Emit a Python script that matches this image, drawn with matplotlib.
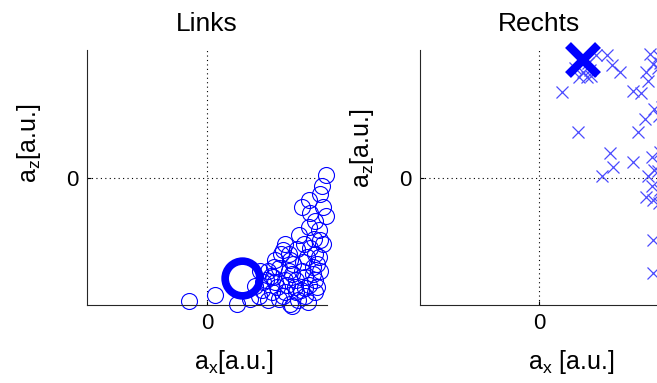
import matplotlib
matplotlib.use("Agg")
import matplotlib.pyplot as plt

plt.rcParams['font.family'] = ['Liberation Sans', 'DejaVu Sans']
plt.rcParams['mathtext.default'] = 'regular'

# left: circles (Links)
links_x = [-0.15, 0.07, 0.25, 0.99, 0.94, 0.85, 0.79, 0.97, 0.86, 0.90, 0.85, 0.93,
           0.89, 0.94, 0.81, 0.65, 0.75, 0.90, 0.93, 0.83, 0.63, 0.69, 0.57, 0.94,
           0.88, 0.79, 0.68, 0.60, 0.51, 0.44, 0.49, 0.57, 0.65, 0.74, 0.82, 0.90,
           0.90, 0.82, 0.74, 0.65, 0.54, 0.46, 0.51, 0.60, 0.69, 0.76, 0.43, 0.71,
           0.82, 0.99, 0.97, 0.72, 0.77, 0.36, 0.40, 0.55, 0.62, 0.86, 0.96, 0.92,
           0.58, 0.67, 0.78, 0.85, 0.47, 0.53, 0.71, 0.80, 0.88, 0.63, 0.73, 0.84,
           0.92, 0.56, 0.68]
links_y = [-0.97, -0.92, -0.99, 0.02, -0.13, -0.18, -0.23, -0.23, -0.28, -0.34, -0.39, -0.41,
           -0.48, -0.49, -0.52, -0.52, -0.56, -0.60, -0.62, -0.62, -0.57, -0.65, -0.65, -0.73,
           -0.70, -0.73, -0.73, -0.71, -0.73, -0.73, -0.80, -0.82, -0.80, -0.80, -0.78, -0.80,
           -0.90, -0.87, -0.90, -0.90, -0.90, -0.88, -0.96, -0.95, -0.99, -0.96, -0.93, -1.01,
           -0.93, -0.30, -0.52, -0.68, -0.45, -0.95, -0.85, -0.78, -0.60, -0.55, -0.07, -0.68,
           -0.86, -0.84, -0.88, -0.84, -0.82, -0.77, -0.76, -0.66, -0.76, -0.93, -0.86, -0.98,
           -0.86, -0.70, -0.60]
links_mean = (0.29, -0.79)

# right: crosses (Rechts)
rechts_x = [0.19, 0.33, 0.34, 0.40, 0.44, 0.43, 0.37, 0.48, 0.57, 0.61, 0.68, 0.79,
            0.86, 0.93, 0.96, 0.92, 0.90, 0.97, 0.89, 0.83, 0.60, 0.62, 0.53, 0.79,
            0.95, 0.92, 0.95, 0.90, 0.96, 0.96, 0.96, 0.97, 1.01, 1.02, 1.00, 1.03,
            1.01, 1.02, 1.00, 1.02, 1.01, 0.41, 0.30]
rechts_y = [0.67, 0.36, 0.79, 0.79, 0.80, 0.84, 0.83, 0.96, 0.96, 0.88, 0.83, 0.68,
            0.66, 0.97, 0.89, 0.76, 0.83, 0.54, 0.46, 0.36, 0.19, 0.08, 0.01, 0.12,
            0.16, 0.01, -0.07, -0.15, -0.18, -0.49, -0.75, 0.06, 0.95, 0.90, 0.86, 0.55,
            0.48, 0.20, 0.05, -0.10, -0.20, 0.90, 0.86]
rechts_mean = (0.37, 0.92)

fig = plt.figure(figsize=(6.57, 3.83), dpi=100)
ax1 = fig.add_axes([87 / 657, 78 / 383, 240 / 657, 255 / 383])
ax2 = fig.add_axes([420 / 657, 78 / 383, 238 / 657, 255 / 383])

ax1.plot(links_x, links_y, 'o', mfc='none', mec='#0000ff', ms=11.5, mew=0.8, clip_on=False)
ax1.plot([links_mean[0]], [links_mean[1]], 'o', mfc='none', mec='#0000ff', ms=25, mew=5.5, clip_on=False)

ax2.plot(rechts_x, rechts_y, 'x', color='#4a4aff', ms=8, mew=0.9, clip_on=False)
ax2.plot([rechts_mean[0]], [rechts_mean[1]], 'x', color='#0000ff', ms=21, mew=6, clip_on=False)

for ax, xl, xc, yc in [(ax1, r'a$_{x}$[a.u.]', 0.6125, 0.635),
                       (ax2, r'a$_{x}$ [a.u.]', 0.634, 0.616)]:
    ax.set_xlim(-1, 1)
    ax.set_ylim(-1, 1)
    ax.set_xticks([0])
    ax.set_yticks([0])
    ax.tick_params(direction='in', length=3, labelsize=16, pad=6)
    ax.grid(True, linestyle=(0, (1, 3)), color='k', linewidth=0.8)
    ax.spines['top'].set_visible(False)
    ax.spines['right'].set_visible(False)
    ax.spines['left'].set_color('#262626')
    ax.spines['bottom'].set_color('#262626')
    ax.set_xlabel(xl, fontsize=18)
    ax.set_ylabel(r'a$_{z}$[a.u.]', fontsize=18)
    ax.xaxis.set_label_coords(xc, -0.17)
    ax.yaxis.set_label_coords(-0.185, yc)

ax1.set_title('Links', fontsize=19, pad=14)
ax2.set_title('Rechts', fontsize=19, pad=14)

fig.savefig('out.png', dpi=100)
